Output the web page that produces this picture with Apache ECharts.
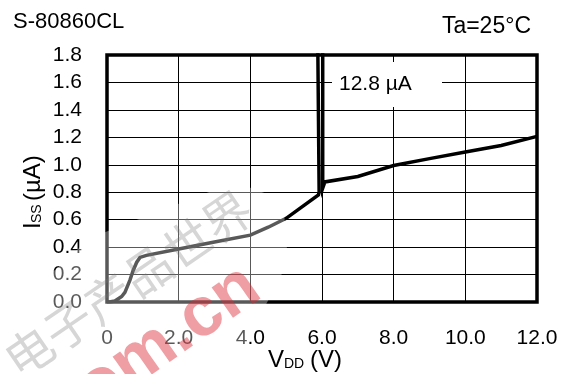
<!DOCTYPE html>
<html>
<head>
<meta charset="utf-8">
<script src="https://cdn.jsdelivr.net/npm/echarts@6/dist/echarts.min.js"></script>
<style>
html,body{margin:0;padding:0;background:#fff;}
#chart{width:564px;height:374px;}
</style>
</head>
<body>
<div id="chart"></div>
<script>
// ---- data ----
const vdd = [0, 0.1, 0.22, 0.41, 0.5, 0.64, 0.73, 0.83, 0.92, 1.1, 2.0, 3.0, 4.0, 4.5, 5.0, 5.9, 5.92, 5.5, 6.02, 6.02, 6.08, 7.0, 8.0, 9.0, 10.0, 11.0, 12.0];
const iss = [0, 0.002, 0.007, 0.04, 0.07, 0.16, 0.23, 0.29, 0.325, 0.34, 0.386, 0.437, 0.487, 0.545, 0.61, 0.78, 0.8, 12.8, 12.8, 0.83, 0.875, 0.915, 0.995, 1.045, 1.093, 1.14, 1.207];
const xTickLabels = ['0', '2.0', '4.0', '6.0', '8.0', '10.0', '12.0'];
const yTickLabels = ['0.0', '0.2', '0.4', '0.6', '0.8', '1.0', '1.2', '1.4', '1.6', '1.8'];
const chartTitle = 'S-80860CL';
const condition = 'Ta=25°C';
const peakNote = '12.8 µA';

const FONT = '"Liberation Sans", Arial, sans-serif';
const points = vdd.map((v, i) => [v, iss[i]]);

const chart = echarts.init(document.getElementById('chart'), null, {renderer: 'canvas'});
chart.setOption({
  animation: false,
  backgroundColor: '#fff',
  grid: {left: 107, right: 27, top: 55, bottom: 72, show: true, borderColor: '#000', borderWidth: 3.5, backgroundColor: 'transparent'},
  xAxis: {
    type: 'value', min: 0, max: 12, interval: 2,
    axisLine: {show: false}, axisTick: {show: false},
    splitLine: {show: true, lineStyle: {color: '#000', width: 1}},
    axisLabel: {fontFamily: FONT, fontSize: 21, color: '#000', margin: 26,
      formatter: v => xTickLabels[Math.round(v / 2)]}
  },
  yAxis: {
    type: 'value', min: 0, max: 1.8, interval: 0.2,
    axisLine: {show: false}, axisTick: {show: false},
    splitLine: {show: true, lineStyle: {color: '#000', width: 1}},
    axisLabel: {fontFamily: FONT, fontSize: 21, color: '#000', margin: 25,
      formatter: v => yTickLabels[Math.round(v / 0.2)]}
  },
  series: [{
    type: 'line', data: points, symbol: 'none', clip: true,
    lineStyle: {color: '#000', width: 3.5, join: 'miter'}
  }],
  graphic: [
    {type: 'text', x: 13, y: 33, style: {text: chartTitle, font: '22px ' + FONT, fill: '#000', verticalAlign: 'bottom'}},
    {type: 'text', x: 531, y: 38, style: {text: condition, font: '23px ' + FONT, fill: '#000', align: 'right', verticalAlign: 'bottom'}},
    {type: 'rect', shape: {x: 332, y: 62, width: 110, height: 45}, style: {fill: '#fff'}, z: 50},
    {type: 'text', x: 339, y: 95, style: {text: peakNote, font: '21px ' + FONT, fill: '#000', verticalAlign: 'bottom'}, z: 51},
    // x axis name V_DD (V)
    {type: 'text', x: 268, y: 372, style: {text: 'V', font: '24px ' + FONT, fill: '#000', verticalAlign: 'bottom'}},
    {type: 'text', x: 284, y: 371, style: {text: 'DD', font: '14px ' + FONT, fill: '#000', verticalAlign: 'bottom'}},
    {type: 'text', x: 310, y: 372, style: {text: '(V)', font: '24px ' + FONT, fill: '#000', verticalAlign: 'bottom'}},
    // y axis name I_SS (µA)
    {type: 'group', x: 45, y: 229, rotation: Math.PI / 2, children: [
      {type: 'text', x: 0, y: 0, style: {text: 'I', font: '24px ' + FONT, fill: '#000', verticalAlign: 'bottom'}},
      {type: 'text', x: 6, y: -1, style: {text: 'SS', font: '14px ' + FONT, fill: '#000', verticalAlign: 'bottom'}},
      {type: 'text', x: 28, y: 0, style: {text: '(µA)', font: '24px ' + FONT, fill: '#000', verticalAlign: 'bottom'}}
    ]},
    // watermark haze + text
    {type: 'polygon', z: 100, silent: true,
      shape: {points: [[0, 374], [0, 320], [90, 238], [235, 182], [283, 200], [288, 262], [230, 374]]},
      style: {fill: 'rgba(255,255,255,0.35)'}},
    {type: 'text', z: 101, x: 128, y: 284, rotation: 0.6, silent: true,
      style: {text: '电子产品世界', font: '48px "Noto Sans CJK SC"', fill: 'rgba(120,120,120,0.3)', align: 'center', verticalAlign: 'middle'}},
    {type: 'text', z: 102, x: 32, y: 392, rotation: 0.61, silent: true,
      style: {text: 'com.cn', font: 'bold 70px ' + FONT, fill: 'rgba(220,40,50,0.45)', verticalAlign: 'alphabetic'}}
  ]
});
</script>
</body>
</html>
